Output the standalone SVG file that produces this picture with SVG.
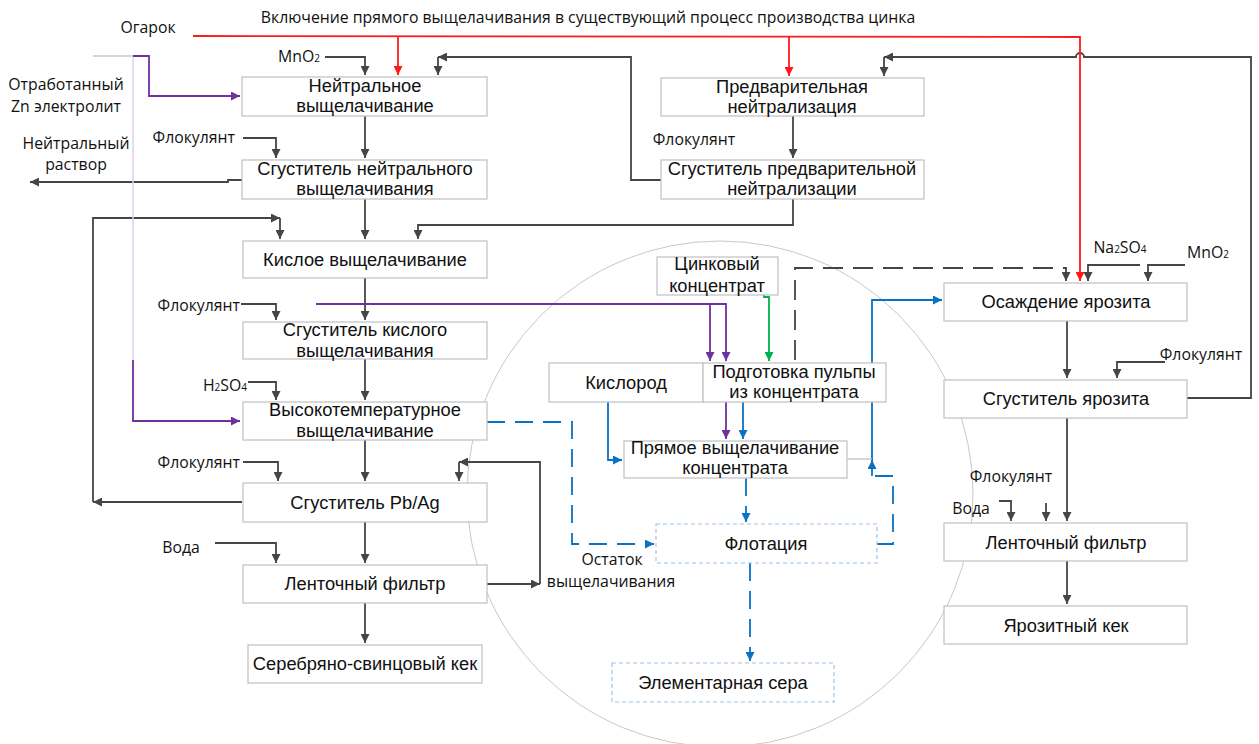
<svg xmlns="http://www.w3.org/2000/svg" width="1259" height="744" viewBox="0 0 1259 744">
<style>
.box{fill:#fff;stroke:#c0c0c0;stroke-width:1.2}
.dbox{fill:#fff;stroke:#9dc3e6;stroke-width:1.2;stroke-dasharray:4 3}
.bt{font-family:"Liberation Sans",Arial,sans-serif;font-size:18.3px;fill:#111;text-anchor:middle}
.lb{font-family:"Open Sans","Liberation Sans",sans-serif;font-size:15.8px;fill:#111}
.c{fill:none;stroke-width:1.8}
.g{stroke:#454545}
.r{stroke:#ff1a1a}
.p{stroke:#7030a0}
.b{stroke:#0a72c4}
.gr{stroke:#00b050}
.dash{stroke-dasharray:20 10}
.bdash{stroke-dasharray:18 10}
</style>
<defs>
<marker id="ag" viewBox="0 0 10 10" refX="10" refY="5" markerWidth="10" markerHeight="9" markerUnits="userSpaceOnUse" orient="auto"><path d="M0,0 L10,5 L0,10 z" fill="#454545"/></marker>
<marker id="ar" viewBox="0 0 10 10" refX="10" refY="5" markerWidth="10" markerHeight="9" markerUnits="userSpaceOnUse" orient="auto"><path d="M0,0 L10,5 L0,10 z" fill="#ff1a1a"/></marker>
<marker id="ap" viewBox="0 0 10 10" refX="10" refY="5" markerWidth="10" markerHeight="9" markerUnits="userSpaceOnUse" orient="auto"><path d="M0,0 L10,5 L0,10 z" fill="#7030a0"/></marker>
<marker id="ab" viewBox="0 0 10 10" refX="10" refY="5" markerWidth="10" markerHeight="9" markerUnits="userSpaceOnUse" orient="auto"><path d="M0,0 L10,5 L0,10 z" fill="#0a72c4"/></marker>
<marker id="agr" viewBox="0 0 10 10" refX="10" refY="5" markerWidth="10" markerHeight="9" markerUnits="userSpaceOnUse" orient="auto"><path d="M0,0 L10,5 L0,10 z" fill="#00b050"/></marker>
</defs>
<rect width="1259" height="744" fill="#fff"/>
<circle cx="720" cy="494" r="253" fill="none" stroke="#c8c8c8" stroke-width="1"/>

<g id="labels">
<text class="lb" x="588" y="23" text-anchor="middle" font-size="16.3">Включение прямого выщелачивания в существующий процесс производства цинка</text>
<text class="lb" x="148" y="33" text-anchor="middle">Огарок</text>
<text class="lb" x="66" y="90" text-anchor="middle">Отработанный</text>
<text class="lb" x="66" y="112" text-anchor="middle">Zn электролит</text>
<text class="lb" x="76" y="149" text-anchor="middle">Нейтральный</text>
<text class="lb" x="76" y="170" text-anchor="middle">раствор</text>
<text class="lb" x="320" y="62" text-anchor="end">MnO<tspan font-size="10">2</tspan></text>
<text class="lb" x="235" y="143" text-anchor="end">Флокулянт</text>
<text class="lb" x="694" y="145" text-anchor="middle">Флокулянт</text>
<text class="lb" x="240" y="311" text-anchor="end">Флокулянт</text>
<text class="lb" x="247" y="391" text-anchor="end">H<tspan font-size="10">2</tspan>SO<tspan font-size="10">4</tspan></text>
<text class="lb" x="240" y="468" text-anchor="end">Флокулянт</text>
<text class="lb" x="181" y="553" text-anchor="middle">Вода</text>
<text class="lb" x="612" y="565" text-anchor="middle">Остаток</text>
<text class="lb" x="611" y="587" text-anchor="middle">выщелачивания</text>
<text class="lb" x="1120" y="253" text-anchor="middle">Na<tspan font-size="10">2</tspan>SO<tspan font-size="10">4</tspan></text>
<text class="lb" x="1208" y="258" text-anchor="middle">MnO<tspan font-size="10">2</tspan></text>
<text class="lb" x="1201" y="360" text-anchor="middle">Флокулянт</text>
<text class="lb" x="1011" y="482" text-anchor="middle">Флокулянт</text>
<text class="lb" x="971" y="514" text-anchor="middle">Вода</text>
</g>

<g id="connectors">
<path class="c g" d="M325,57 H365 V75" marker-end="url(#ag)"/>
<path class="c g" d="M365,116 V158" marker-end="url(#ag)"/>
<path class="c g" d="M243,138 H276 V158" marker-end="url(#ag)"/>
<path class="c g" d="M242,180 H228 V182 H30" marker-end="url(#ag)"/>
<path class="c g" d="M365,199 V239" marker-end="url(#ag)"/>
<path class="c g" d="M793,199 V225 H418 V239" marker-end="url(#ag)"/>
<path class="c g" d="M661,180 H631 V57 H438" marker-end="url(#ag)"/>
<path class="c g" d="M438,57 V75" marker-end="url(#ag)"/>
<path class="c g" d="M793,116 V158" marker-end="url(#ag)"/>
<path class="c g" d="M365,278 V320" marker-end="url(#ag)"/>
<path class="c g" d="M241,304 H276 V320" marker-end="url(#ag)"/>
<path class="c g" d="M365,359 V400" marker-end="url(#ag)"/>
<path class="c g" d="M248,382 H276 V400" marker-end="url(#ag)"/>
<path class="c g" d="M365,440 V481" marker-end="url(#ag)"/>
<path class="c g" d="M243,462 H278 V481" marker-end="url(#ag)"/>
<path class="c g" d="M242,502 H93" marker-end="url(#ag)"/>
<path class="c g" d="M93,502 V218 H280" marker-end="url(#ag)"/>
<path class="c g" d="M280,218 V239" marker-end="url(#ag)"/>
<path class="c g" d="M365,522 V563" marker-end="url(#ag)"/>
<path class="c g" d="M215,543 H276 V563" marker-end="url(#ag)"/>
<path class="c g" d="M365,603 V643" marker-end="url(#ag)"/>
<path class="c g" d="M487,584 H540" marker-end="url(#ag)"/>
<path class="c g" d="M540,584 V462 H459" marker-end="url(#ag)"/>
<path class="c g" d="M459,462 V481" marker-end="url(#ag)"/>
<path class="c g" d="M1187,398 H1251 V57 H1084 a4,4 0 0 0 -8,0 H884" marker-end="url(#ag)"/>
<path class="c g" d="M884,57 V76" marker-end="url(#ag)"/>
<path class="c g" d="M1140,265 H1088 V281" marker-end="url(#ag)"/>
<path class="c g" d="M1185,265 H1148 V281" marker-end="url(#ag)"/>
<path class="c g" d="M1067,321 V378" marker-end="url(#ag)"/>
<path class="c g" d="M1165,362 H1117 V378" marker-end="url(#ag)"/>
<path class="c g" d="M1067,418 V521" marker-end="url(#ag)"/>
<path class="c g" d="M999,501 H1011 V521" marker-end="url(#ag)"/>
<path class="c g" d="M1046,503 V521" marker-end="url(#ag)"/>
<path class="c g" d="M1067,561 V604" marker-end="url(#ag)"/>
<path class="c g dash" d="M795,360 V268 H1066 V281" marker-end="url(#ag)"/>

<path class="c r" d="M193,36 L1080,37 V281" marker-end="url(#ar)"/>
<path class="c r" d="M398,36 V75" marker-end="url(#ar)"/>
<path class="c r" d="M789,37 V76" marker-end="url(#ar)"/>

<path fill="none" stroke="#c8c8c8" stroke-width="1.5" d="M93,56 H133"/>
<path fill="none" stroke="#ddd0ee" stroke-width="1.5" d="M133,56 V360"/>
<path class="c p" d="M133,56 H149 V96 H240" marker-end="url(#ap)"/>
<path class="c p" d="M133,360 V421 H240" marker-end="url(#ap)"/>
<path class="c p" d="M316,304 H726 V361" marker-end="url(#ap)"/>
<path class="c p" d="M710,304 V361" marker-end="url(#ap)"/>
<path class="c p" d="M726,402 V439" marker-end="url(#ap)"/>

<path class="c b" d="M743,402 V439" marker-end="url(#ab)"/>
<path class="c b" d="M608,402 V460 H622" marker-end="url(#ab)"/>
<path class="c b" d="M872,476 V300 H942" marker-end="url(#ab)"/>
<path class="c b bdash" d="M877,544 H893 V476 H872 V460" marker-end="url(#ab)"/>
<path class="c b bdash" d="M487,422 H572 V544 H654" marker-end="url(#ab)"/>
<path class="c b bdash" d="M746,478 V522" marker-end="url(#ab)"/>
<path class="c b bdash" d="M750,563 V661" marker-end="url(#ab)"/>
<path fill="none" stroke="#bdbdbd" stroke-width="1.2" d="M847,459 H872"/>
<path class="c gr" d="M764,295 V297 H769 V361" marker-end="url(#agr)"/>
</g>

<g id="n1"><rect class="box" x="242" y="77" width="245" height="39"/><text class="bt" x="365" y="92">Нейтральное</text><text class="bt" x="365" y="112">выщелачивание</text></g>
<g id="n2"><rect class="box" x="242" y="160" width="245" height="39"/><text class="bt" x="365" y="175">Сгуститель нейтрального</text><text class="bt" x="365" y="195">выщелачивания</text></g>
<g id="n3"><rect class="box" x="243" y="241" width="244" height="37"/><text class="bt" x="365" y="266">Кислое выщелачивание</text></g>
<g id="n4"><rect class="box" x="243" y="322" width="244" height="37"/><text class="bt" x="365" y="336">Сгуститель кислого</text><text class="bt" x="365" y="357">выщелачивания</text></g>
<g id="n5"><rect class="box" x="243" y="402" width="244" height="38"/><text class="bt" x="365" y="416">Высокотемпературное</text><text class="bt" x="365" y="437">выщелачивание</text></g>
<g id="n6"><rect class="box" x="243" y="483" width="244" height="39"/><text class="bt" x="365" y="509">Сгуститель Pb/Ag</text></g>
<g id="n7"><rect class="box" x="243" y="565" width="244" height="38"/><text class="bt" x="365" y="590">Ленточный фильтр</text></g>
<g id="n8"><rect class="box" x="248" y="645" width="234" height="38"/><text class="bt" x="365" y="670">Серебряно-свинцовый кек</text></g>
<g id="n9"><rect class="box" x="661" y="78" width="263" height="38"/><text class="bt" x="792" y="93">Предварительная</text><text class="bt" x="792" y="113">нейтрализация</text></g>
<g id="n10"><rect class="box" x="661" y="160" width="263" height="39"/><text class="bt" x="792" y="175">Сгуститель предварительной</text><text class="bt" x="792" y="195">нейтрализации</text></g>
<g id="n11"><rect class="box" x="657" y="257" width="121" height="38"/><text class="bt" x="717" y="270" font-size="18">Цинковый</text><text class="bt" x="717" y="292" font-size="18">концентрат</text></g>
<g id="n12"><rect class="box" x="549" y="363" width="154" height="39"/><text class="bt" x="626" y="389">Кислород</text></g>
<g id="n13"><rect class="box" x="703" y="363" width="183" height="39"/><text class="bt" x="794" y="378">Подготовка пульпы</text><text class="bt" x="794" y="398">из концентрата</text></g>
<g id="n14"><rect class="box" x="624" y="441" width="223" height="37"/><text class="bt" x="735" y="454">Прямое выщелачивание</text><text class="bt" x="735" y="474">концентрата</text></g>
<g id="n15"><rect class="dbox" x="656" y="524" width="221" height="39"/><text class="bt" x="766" y="550">Флотация</text></g>
<g id="n16"><rect class="dbox" x="612" y="663" width="222" height="39"/><text class="bt" x="723" y="689">Элементарная сера</text></g>
<g id="n17"><rect class="box" x="944" y="283" width="243" height="38"/><text class="bt" x="1066" y="308">Осаждение ярозита</text></g>
<g id="n18"><rect class="box" x="944" y="380" width="243" height="38"/><text class="bt" x="1066" y="405">Сгуститель ярозита</text></g>
<g id="n19"><rect class="box" x="944" y="523" width="243" height="38"/><text class="bt" x="1066" y="549">Ленточный фильтр</text></g>
<g id="n20"><rect class="box" x="944" y="606" width="243" height="38"/><text class="bt" x="1066" y="632">Ярозитный кек</text></g>
</svg>
